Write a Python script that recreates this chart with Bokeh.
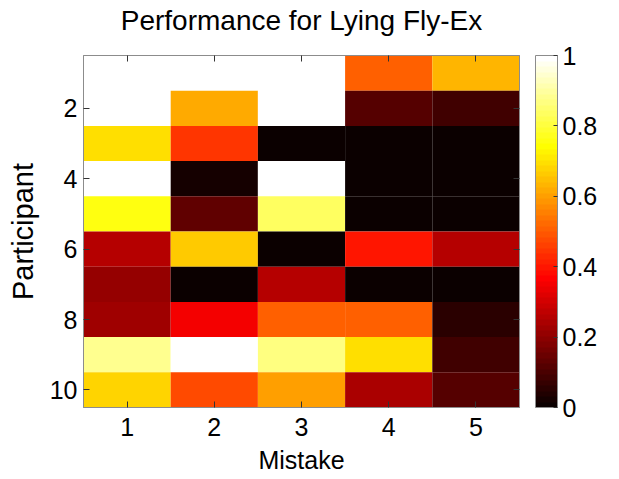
from bokeh.plotting import figure
from bokeh.models import (Range1d, LinearColorMapper, ColorBar, FixedTicker, LinearAxis,
                          CustomJSTickFormatter, ColumnDataSource, Title)
from bokeh.transform import transform
from bokeh.embed import file_html
from bokeh.resources import INLINE

mistakes = [1, 2, 3, 4, 5]
participants = [1, 2, 3, 4, 5, 6, 7, 8, 9, 10]
# performance[participant][mistake]
performance = [
    [1.00, 1.00, 1.00, 0.51, 0.63],
    [1.00, 0.62, 1.00, 0.12, 0.08],
    [0.70, 0.44, 0.00, 0.00, 0.00],
    [1.00, 0.03, 1.00, 0.00, 0.00],
    [0.76, 0.14, 0.83, 0.00, 0.00],
    [0.25, 0.67, 0.00, 0.40, 0.25],
    [0.21, 0.00, 0.25, 0.00, 0.00],
    [0.22, 0.35, 0.51, 0.51, 0.06],
    [0.88, 1.00, 0.86, 0.70, 0.09],
    [0.68, 0.48, 0.60, 0.24, 0.12],
]
title_text = "Performance for Lying Fly-Ex"
x_label = "Mistake"
y_label = "Participant"
y_ticks = [2, 4, 6, 8, 10]
cbar_ticks = [0, 0.2, 0.4, 0.6, 0.8, 1.0]


def hot(n=64):
    cols = []
    for i in range(n):
        r = min(1.0, (i + 1) / (3 * n / 8))
        g = min(1.0, max(0.0, (i + 1 - 3 * n / 8) / (3 * n / 8)))
        b = min(1.0, max(0.0, (i + 1 - 6 * n / 8) / (n / 4)))
        cols.append("#%02x%02x%02x" % (round(r * 255), round(g * 255), round(b * 255)))
    return cols


xs, ys, vs = [], [], []
for pi, row in enumerate(performance):
    for mi, v in enumerate(row):
        xs.append(mistakes[mi])
        ys.append(participants[pi])
        vs.append(v)
src = ColumnDataSource(dict(x=xs, y=ys, v=vs))

mapper = LinearColorMapper(palette=hot(64), low=0, high=1)

FONT = "Liberation Sans"
EDGE = "#8c8c8c"
TICK = "#333333"
FW, FH = 436, 352

p = figure(width=619, height=479, output_backend="svg", toolbar_location=None,
           x_range=Range1d(0.5, 5.5), y_range=Range1d(10.5, 0.5),
           frame_width=FW, frame_height=FH,
           min_border_left=83, min_border_right=100, min_border_top=55, min_border_bottom=72)
p.rect(x="x", y="y", width=1, height=1, source=src,
       fill_color=transform("v", mapper), line_color=None)

p.grid.visible = False
p.outline_line_color = EDGE
p.background_fill_color = "white"

p.xaxis.ticker = FixedTicker(ticks=mistakes)
p.yaxis.ticker = FixedTicker(ticks=y_ticks)
for ax in (p.xaxis[0], p.yaxis[0]):
    ax.major_tick_in = 6
    ax.major_tick_out = 0
    ax.minor_tick_line_color = None
    ax.axis_line_color = EDGE
    ax.major_tick_line_color = TICK
    ax.major_label_text_font = FONT
    ax.major_label_text_font_size = "25px"
    ax.major_label_text_color = "black"
    ax.axis_label_text_font = FONT
    ax.axis_label_text_font_style = "normal"
    ax.axis_label_text_color = "black"
p.xaxis.axis_label = x_label
p.yaxis.axis_label = y_label
p.xaxis.axis_label_text_font_size = "25px"
p.yaxis.axis_label_text_font_size = "29px"
p.xaxis.major_label_standoff = 10
p.yaxis.major_label_standoff = 6
p.xaxis.axis_label_standoff = 7
p.yaxis.axis_label_standoff = 8

top = LinearAxis(ticker=FixedTicker(ticks=mistakes), major_tick_in=6, major_tick_out=0,
                 minor_tick_line_color=None, axis_line_color=EDGE,
                 major_tick_line_color=TICK, major_label_text_font_size="0px",
                 major_label_text_color=None, major_label_standoff=0)
p.add_layout(top, "above")
right = LinearAxis(ticker=FixedTicker(ticks=y_ticks), major_tick_in=6, major_tick_out=0,
                   minor_tick_line_color=None, axis_line_color=EDGE,
                   major_tick_line_color=TICK, major_label_text_font_size="0px",
                   major_label_text_color=None, major_label_standoff=0)
p.add_layout(right, "right")

title = Title(text=title_text, align="center", text_font=FONT, text_font_size="28px",
              text_font_style="normal", text_color="black", standoff=0,
              padding=dict(left=0, right=0, top=0, bottom=20))
p.add_layout(title, "above")

cb = ColorBar(color_mapper=mapper, ticker=FixedTicker(ticks=cbar_ticks),
              formatter=CustomJSTickFormatter(code="return tick.toString();"),
              width=22, height=FH, padding=0, margin=0, location=(FW + 16, 0),
              major_label_text_font=FONT, major_label_text_font_size="25px",
              major_label_text_color="black", background_fill_color=None,
              border_line_color=None,
              major_tick_in=4, major_tick_out=0, major_tick_line_color=TICK,
              bar_line_color=EDGE, label_standoff=5, minor_tick_line_color=None)
p.add_layout(cb)

open("out.html", "w").write(file_html(p, INLINE))
